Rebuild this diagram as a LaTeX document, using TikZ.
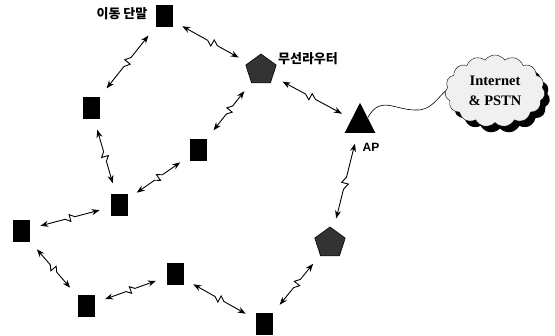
\documentclass[tikz,border=0pt]{standalone}
\usepackage{fontspec}
\newfontfamily\kr{Noto Sans CJK KR}
\newfontfamily\cloudfont{Liberation Serif}
\setsansfont{Liberation Sans}
\usetikzlibrary{shapes.geometric,shapes.symbols,shadows,calc,arrows.meta}
\begin{document}
\begin{tikzpicture}[x=1pt,y=-1pt,
  term/.style={draw=none,fill=black,minimum width=17pt,minimum height=22pt,inner sep=0},
  router/.style={regular polygon,regular polygon sides=5,fill=black!80,draw=black,line width=0.6pt,minimum size=32pt,inner sep=0},
  lbl/.style={font=\kr\bfseries\fontsize{13}{14}\selectfont,inner sep=0},
  bolt/.style={line width=0.9pt,{Stealth[length=8pt,width=6pt]}-{Stealth[length=8pt,width=6pt]},shorten <=11pt,shorten >=11pt,
    to path={(\tikztostart) -- ($(\tikztostart)!0.45!(\tikztotarget)$)
      -- ($(\tikztostart)!0.5!(\tikztotarget)!3.5pt!-90:(\tikztotarget)$)
      -- ($(\tikztostart)!0.5!(\tikztotarget)!3.5pt!90:(\tikztotarget)$)
      -- ($(\tikztostart)!0.55!(\tikztotarget)$) -- (\tikztotarget)}}]
\useasboundingbox (0,0) rectangle (555,336);
% terminals
\node[term] (t1) at (164,16) {};
\node[term] (t2) at (91,108) {};
\node[term] (t3) at (198,150) {};
\node[term] (t4) at (119,205) {};
\node[term] (t5) at (21,231) {};
\node[term] (t6) at (86,306) {};
\node[term] (t7) at (175,274) {};
\node[term] (t8) at (264,324) {};
% routers
\node[router] (r1) at (261,70) {};
\node[router] (r2) at (330,243) {};
% AP
\node[isosceles triangle,shape border rotate=90,isosceles triangle apex angle=54,minimum height=30pt,fill=black,inner sep=0,anchor=lower side] (ap) at (360,133) {};
% cloud
\node[cloud,cloud puffs=15,cloud puff arc=110,aspect=1.4,minimum width=100pt,minimum height=72pt,inner sep=0,
  fill=black!6,draw=black,line width=0.4pt,
  drop shadow={shadow xshift=5pt,shadow yshift=-6pt,fill=black,opacity=1},
  align=center,font=\cloudfont\bfseries\fontsize{14.5}{20}\selectfont] (net) at (495,91) {Internet\\\& PSTN};
% labels
\node[lbl] (l1) at (122,14) {이동 단말};
\node[lbl] (l2) at (308,59) {무선라우터};
\node[font=\sffamily\bfseries\fontsize{12}{13}\selectfont,inner sep=0] (l3) at (371,147) {AP};
% wired link
\draw[line width=0.6pt] (ap.right side) .. controls (380,95) and (395,110) .. (415,110)
  .. controls (430,111) and (436,100) .. (net.west);
% wireless links
\draw[bolt] (t1) to (r1);
\draw[bolt] (t1) to (t2);
\draw[bolt] (r1) to (ap);
\draw[bolt] (r1) to (t3);
\draw[bolt] (t2) to (t4);
\draw[bolt] (t3) to (t4);
\draw[bolt] (t4) to (t5);
\draw[bolt] (t5) to (t6);
\draw[bolt] (t6) to (t7);
\draw[bolt] (t7) to (t8);
\draw[bolt] (t8) to (r2);
\draw[bolt] (r2) to (ap);
\end{tikzpicture}
\end{document}
